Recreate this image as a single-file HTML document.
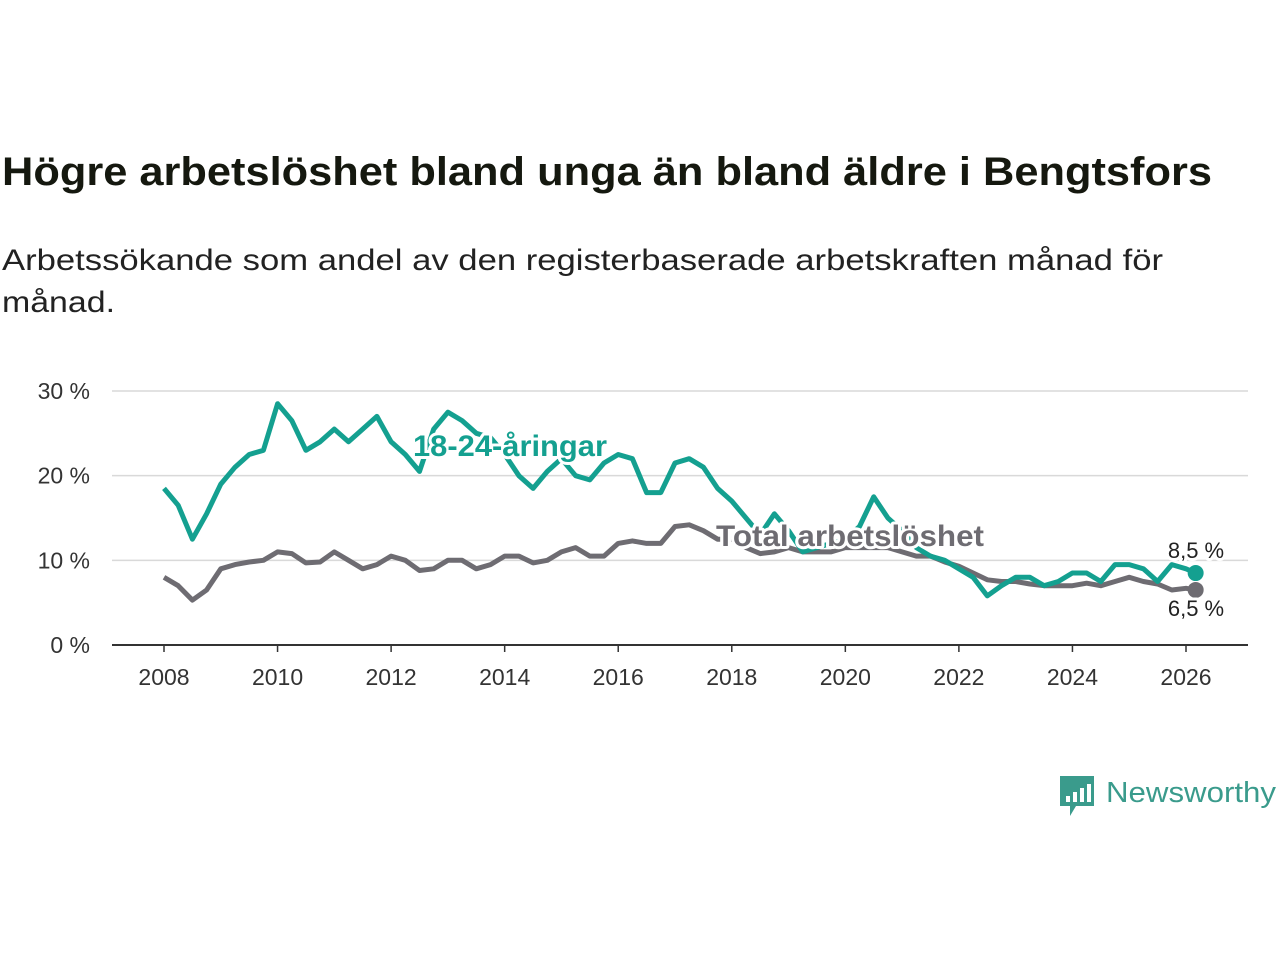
<!DOCTYPE html>
<html><head><meta charset="utf-8"><style>
body{margin:0;background:#fff;font-family:"Liberation Sans","DejaVu Sans",sans-serif;}
#wrap{position:relative;width:1280px;height:960px;overflow:hidden;}
</style></head><body>
<div id="wrap">
<svg id="chart" width="1280" height="960" style="position:absolute;left:0;top:0">
<text x="2" y="185" font-size="40" font-weight="bold" fill="#15180f" textLength="1210" lengthAdjust="spacingAndGlyphs">Högre arbetslöshet bland unga än bland äldre i Bengtsfors</text>
<text x="2" y="270" font-size="30" fill="#222" textLength="1161" lengthAdjust="spacingAndGlyphs">Arbetssökande som andel av den registerbaserade arbetskraften månad för</text>
<text x="2" y="312" font-size="30" fill="#222" textLength="113" lengthAdjust="spacingAndGlyphs">månad.</text>
</svg>
</div>
<script>
const youth=[18.5,16.5,12.5,15.5,19,21,22.5,23,28.5,26.5,23,24,25.5,24,25.5,27,24,22.5,20.5,25.5,27.5,26.5,25,24.5,22.5,20,18.5,20.5,22,20,19.5,21.5,22.5,22,18,18,21.5,22,21,18.5,17,15,13,15.5,13.5,11,11.5,12,12.5,14,17.5,15,13.5,11.5,10.5,10,9,8,5.8,7,8,8,7,7.5,8.5,8.5,7.5,9.5,9.5,9,7.5,9.5,9,8.5];
const total=[8,7,5.3,6.5,9,9.5,9.8,10,11,10.8,9.7,9.8,11,10,9,9.5,10.5,10,8.8,9,10,10,9,9.5,10.5,10.5,9.7,10,11,11.5,10.5,10.5,12,12.3,12,12,14,14.2,13.5,12.5,12.5,11.5,10.8,11,11.5,11,11,11,11.5,11.5,11.5,11.5,11,10.5,10.5,9.8,9.3,8.5,7.7,7.5,7.5,7.2,7,7,7,7.3,7,7.5,8,7.5,7.2,6.5,6.7,6.5];
const yTicks=[0,10,20,30];
const xTicks=[2008,2010,2012,2014,2016,2018,2020,2022,2024,2026];
const startYear=2008, step=0.25;
const NS="http://www.w3.org/2000/svg";
const svg=document.getElementById('chart');
const X=v=>164+(v-2008)*(1186-164)/18;
const Y=v=>645-v*(645-391)/30;
function mk(t,a){const e=document.createElementNS(NS,t);for(const k in a)e.setAttribute(k,a[k]);svg.appendChild(e);return e;}
yTicks.forEach(t=>{
 if(t>0){const g=mk('line',{x1:112,x2:1248,y1:Y(t),y2:Y(t),stroke:'#d9d9d9','stroke-width':1.5});
 
 }
 const l=mk('text',{x:90,y:Y(t)+8,'text-anchor':'end','font-size':23,fill:'#333'});l.textContent=t+' %';
 
 
});
const ax=mk('line',{x1:112,x2:1248,y1:645,y2:645,stroke:'#333','stroke-width':2});


xTicks.forEach(t=>{
 const tk=mk('line',{x1:X(t),x2:X(t),y1:645,y2:652,stroke:'#333','stroke-width':1.5});
 
 
 const l=mk('text',{x:X(t),y:685,'text-anchor':'middle','font-size':23,fill:'#333'});l.textContent=t;
 
 
});
function path(arr){return arr.map((v,i)=>{let yr=startYear+i*step;if(i===arr.length-1)yr=2026.17;return (i?'L':'M')+X(yr).toFixed(1)+','+Y(v).toFixed(1);}).join('');}
const pt=mk('path',{d:path(total),fill:'none',stroke:'#6e6c72','stroke-width':5,'stroke-linejoin':'round'});


const py=mk('path',{d:path(youth),fill:'none',stroke:'#14a090','stroke-width':5,'stroke-linejoin':'round'});


const lx=X(2026.17);
const dy=mk('circle',{cx:lx,cy:Y(youth[youth.length-1]),r:8,fill:'#14a090'});


const dt=mk('circle',{cx:lx,cy:Y(total[total.length-1]),r:8,fill:'#6e6c72'});


function lab(x,y,txt,fill,sz,bold,name,anchor,len){const a={x:x,y:y,'font-size':sz,fill:fill,'font-weight':bold?'bold':'normal',stroke:'#fff','stroke-width':6,'paint-order':'stroke','stroke-linejoin':'round','text-anchor':anchor||'start'};if(len){a.textLength=len;a.lengthAdjust='spacingAndGlyphs';}const t=mk('text',a);t.textContent=txt;
 
 }
lab(413,456,'18-24-åringar','#14a090',30,true,'youth-series-label','start',194);
lab(716,546,'Total arbetslöshet','#6e6c72',30,true,'total-series-label','start',268);
lab(1196,558,youth[youth.length-1].toString().replace('.',',')+' %','#222',22,false,'youth-end-value','middle');
lab(1196,616,total[total.length-1].toString().replace('.',',')+' %','#222',22,false,'total-end-value','middle');
const g=mk('g',{});


const r=document.createElementNS(NS,'path');r.setAttribute('d','M1060,776h34v30h-18l-6,10v-10h-10z');r.setAttribute('fill','#3a9b8c');g.appendChild(r);
[[1066,796,6],[1073,792,10],[1080,788,14],[1087,784,18]].forEach(b=>{const e=document.createElementNS(NS,'rect');e.setAttribute('x',b[0]);e.setAttribute('y',b[1]);e.setAttribute('width',4);e.setAttribute('height',b[2]);e.setAttribute('fill','#fff');g.appendChild(e);});
const lt=document.createElementNS(NS,'text');lt.setAttribute('x',1106);lt.setAttribute('y',802);lt.setAttribute('font-size',29);lt.setAttribute('fill','#3a9b8c');lt.setAttribute('textLength',170);lt.setAttribute('lengthAdjust','spacingAndGlyphs');lt.textContent='Newsworthy';g.appendChild(lt);
</script>
</body></html>
